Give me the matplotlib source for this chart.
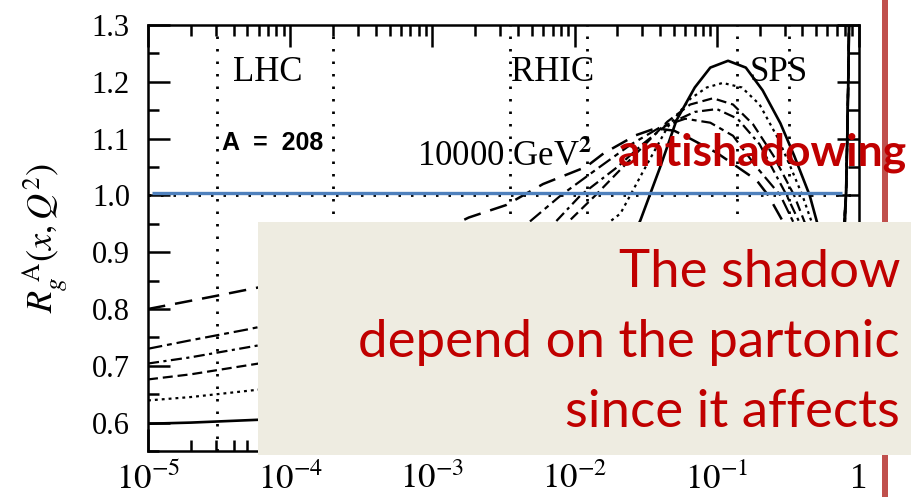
import matplotlib
matplotlib.use("Agg")
import matplotlib.pyplot as plt
from matplotlib.patches import Rectangle

plt.rcParams['font.family'] = ['Liberation Serif', 'DejaVu Serif']
plt.rcParams['mathtext.fontset'] = 'stix'

# ---------------- data ----------------
x_solid = [1e-5, 2e-5, 6e-5, 1e-4, 3e-4, 1e-3, 3e-3, 0.01, 0.02, 0.029, 0.04, 0.052, 0.07, 0.09, 0.12,
           0.16, 0.21, 0.28, 0.35, 0.45, 0.55, 0.65, 0.74, 0.79, 0.81, 0.825, 0.84, 0.855]
y_solid = [0.598, 0.600, 0.605, 0.61, 0.625, 0.66, 0.73, 0.80, 0.87, 0.956, 1.05, 1.132, 1.19, 1.225, 1.237,
           1.225, 1.185, 1.127, 1.07, 1.0, 0.92, 0.86, 0.87, 0.93, 1.0, 1.09, 1.2, 1.33]

x_dotted = [1e-5, 2e-5, 6e-5, 1e-4, 3e-4, 1e-3, 3e-3, 0.008, 0.015, 0.021, 0.03, 0.045, 0.065, 0.085, 0.11,
            0.15, 0.2, 0.27, 0.33, 0.4, 0.5, 0.62, 0.73, 0.79, 0.81, 0.825, 0.84, 0.855]
y_dotted = [0.639, 0.645, 0.658, 0.667, 0.69, 0.735, 0.81, 0.88, 0.94, 0.968, 1.04, 1.12, 1.17, 1.19, 1.198,
            1.19, 1.16, 1.10, 1.05, 1.0, 0.93, 0.88, 0.88, 0.93, 1.0, 1.09, 1.2, 1.33]

x_dashed = [1e-5, 2e-5, 6e-5, 1e-4, 3e-4, 1e-3, 3e-3, 0.006, 0.014, 0.02, 0.03, 0.045, 0.065, 0.094,
            0.13, 0.18, 0.25, 0.35, 0.45, 0.58, 0.7, 0.78, 0.81, 0.825, 0.84, 0.855]
y_dashed = [0.676, 0.685, 0.704, 0.715, 0.745, 0.79, 0.855, 0.91, 1.0, 1.04, 1.085, 1.13, 1.16, 1.171,
            1.16, 1.125, 1.07, 1.0, 0.93, 0.88, 0.87, 0.92, 1.0, 1.09, 1.2, 1.33]

x_dashdot = [1e-5, 2e-5, 6e-5, 1e-4, 3e-4, 1e-3, 3e-3, 0.006, 0.011, 0.02, 0.03, 0.045, 0.07, 0.1,
             0.14, 0.2, 0.31, 0.42, 0.55, 0.68, 0.77, 0.81, 0.825, 0.84, 0.855]
y_dashdot = [0.704, 0.715, 0.736, 0.75, 0.78, 0.82, 0.88, 0.93, 1.0, 1.05, 1.09, 1.125, 1.147, 1.152,
             1.135, 1.09, 1.0, 0.93, 0.88, 0.87, 0.91, 1.0, 1.09, 1.2, 1.33]

x_dashdash = [1e-5, 2e-5, 5e-5, 1e-4, 3e-4, 1e-3, 3e-3, 0.008, 0.015, 0.025, 0.04, 0.06, 0.09, 0.13,
              0.19, 0.28, 0.4, 0.52, 0.65, 0.76, 0.81, 0.825, 0.84, 0.855]
y_dashdash = [0.730, 0.745, 0.764, 0.78, 0.81, 0.85, 0.91, 1.0, 1.05, 1.09, 1.12, 1.135, 1.128, 1.105,
              1.05, 1.0, 0.92, 0.87, 0.86, 0.9, 1.0, 1.09, 1.2, 1.33]

x_long = [1e-5, 3e-5, 6e-5, 1e-4, 3e-4, 1e-3, 1.8e-3, 3.3e-3, 6e-3, 0.012, 0.016, 0.027, 0.037, 0.05, 0.065,
          0.1, 0.19, 0.23, 0.33, 0.48, 0.63, 0.75, 0.81, 0.825, 0.84, 0.855]
y_long = [0.80, 0.823, 0.838, 0.85, 0.88, 0.93, 0.961, 0.983, 1.02, 1.05, 1.074, 1.106, 1.118, 1.114, 1.10,
          1.075, 1.027, 1.0, 0.93, 0.87, 0.85, 0.88, 1.0, 1.09, 1.2, 1.33]

region_lines_x = [3.05e-5, 2.0e-4, 3.5e-3, 0.0122, 0.139, 0.32]
unity_y = 1.0
blue_line_x = [1.07e-5, 0.76]
blue_line_y = [1.004, 1.004]

x_ticks = [1e-5, 1e-4, 1e-3, 1e-2, 1e-1, 1]
x_ticklabels = ['$10^{-5}$', '$10^{-4}$', '$10^{-3}$', '$10^{-2}$', '$10^{-1}$', '1']
y_ticks = [0.6, 0.7, 0.8, 0.9, 1.0, 1.1, 1.2, 1.3]
y_ticklabels = ['0.6', '0.7', '0.8', '0.9', '1.0', '1.1', '1.2', '1.3']

box_lines = ['The shadow', 'depend on the partonic', 'since it affects']

# ---------------- figure ----------------
W, H = 911, 497
fig = plt.figure(figsize=(W / 100, H / 100), dpi=100)
ax = fig.add_axes([148 / W, 1 - 451 / H, (859 - 148) / W, (451 - 25) / H])

ax.set_xscale('log')
ax.set_xlim(1e-5, 1)
ax.set_ylim(0.55, 1.3)

lw = 1.6
dot_style = dict(color='black', lw=2.0, linestyle=(0, (0.9, 3.6)))
for xv in region_lines_x:
    ax.axvline(xv, **dot_style, zorder=1)
ax.axhline(unity_y, **dot_style, zorder=1)

ax.plot(x_solid, y_solid, color='black', lw=lw + 0.3, linestyle='-')
ax.plot(x_dotted, y_dotted, color='black', lw=lw, linestyle=(0, (1.3, 1.8)))
ax.plot(x_dashed, y_dashed, color='black', lw=lw, linestyle=(0, (4.5, 2.2)))
ax.plot(x_dashdot, y_dashdot, color='black', lw=lw, linestyle=(0, (5, 2, 1.4, 2)))
ax.plot(x_dashdash, y_dashdash, color='black', lw=lw, linestyle=(0, (6.5, 2.2, 2.2, 2.2)))
ax.plot(x_long, y_long, color='black', lw=lw + 0.2, linestyle=(0, (7, 4)))

ax.plot(blue_line_x, blue_line_y, color='#4F81BD', lw=2.4, solid_capstyle='butt', zorder=5)

ax.set_xticks(x_ticks)
ax.set_xticklabels(x_ticklabels, fontsize=25)
ax.set_yticks(y_ticks)
ax.set_yticklabels(y_ticklabels, fontsize=22)
ax.set_yticks([0.55, 0.65, 0.75, 0.85, 0.95, 1.05, 1.15, 1.25], minor=True)
ax.tick_params(which='both', direction='in', top=True, right=True, width=1.8, color='black')
ax.tick_params(which='major', length=16)
ax.tick_params(which='minor', length=8)
ax.tick_params(axis='x', which='major', pad=9)
ax.tick_params(axis='y', which='major', pad=13)
for s in ax.spines.values():
    s.set_linewidth(1.8)

# annotations inside plot
fig.text(233 / W, 1 - 72 / H, 'LHC', fontsize=25, va='center', ha='left')
fig.text(511 / W, 1 - 72 / H, 'RHIC', fontsize=25, va='center', ha='left')
fig.text(750 / W, 1 - 72 / H, 'SPS', fontsize=25, va='center', ha='left')
fig.text(222 / W, 1 - 143 / H, 'A  =  208', fontsize=18, fontweight='bold',
         family=['Liberation Sans', 'DejaVu Sans'], va='center', ha='left')
fig.text(417 / W, 1 - 157 / H, r'10000 GeV$^{\mathbf{2}}$', fontsize=25, va='center', ha='left')

fig.text(45 / W, 1 - 238 / H, r'$R_g^{\;\mathrm{A}}(x,Q^2)$', fontsize=26, rotation=90,
         va='center', ha='center')

# overlays
fig.add_artist(Rectangle((882 / W, 0), 6 / W, 1, transform=fig.transFigure,
                         facecolor='#C0504D', edgecolor='none', zorder=8))
fig.add_artist(Rectangle((258 / W, 1 - 455 / H), (W - 258) / W, (455 - 222) / H,
                         transform=fig.transFigure, facecolor='#EEECE1', edgecolor='none', zorder=9))

fig.text(618 / W, 1 - 165 / H, 'antishadowing', fontsize=32, fontweight='bold', color='#C00000',
         family=['Lato', 'DejaVu Sans'], ha='left', va='baseline', zorder=11)

baselines = [287, 357, 427]
for txt, b in zip(box_lines, baselines):
    fig.text(900 / W, 1 - b / H, txt, fontsize=38, color='#C00000',
             family=['Lato', 'DejaVu Sans'], ha='right', va='baseline', zorder=11)

fig.savefig('out.png', dpi=100)
